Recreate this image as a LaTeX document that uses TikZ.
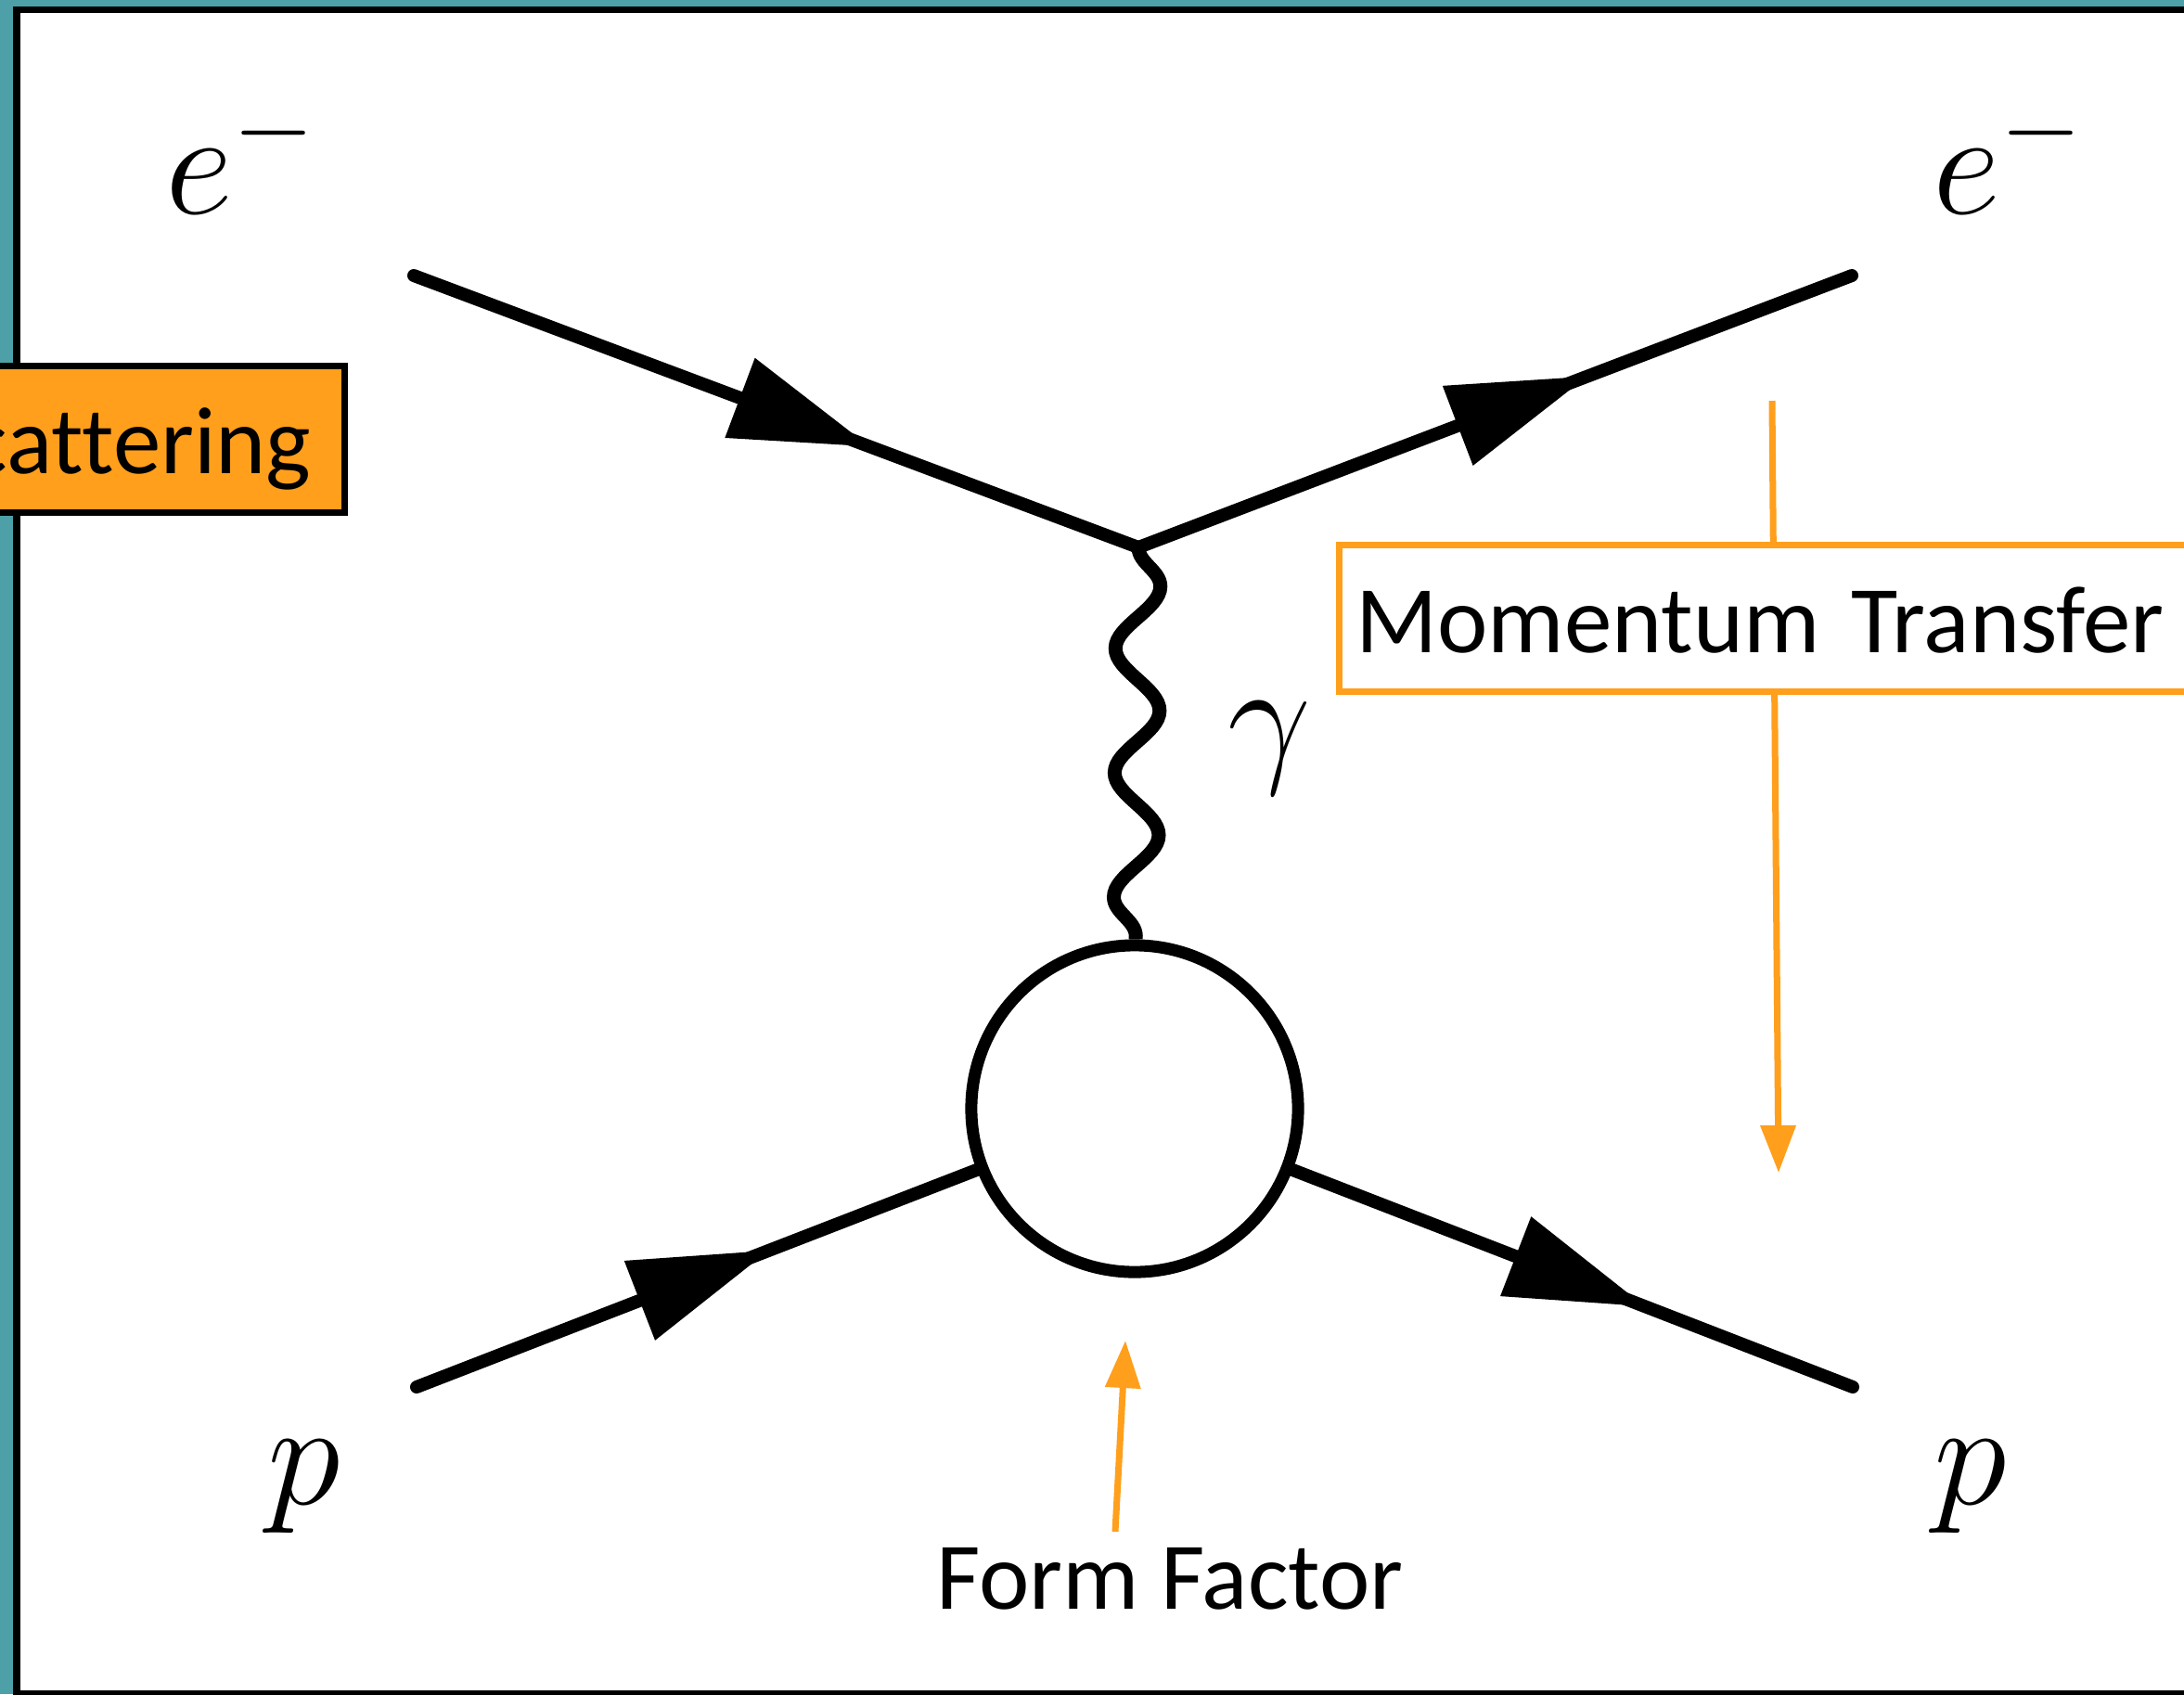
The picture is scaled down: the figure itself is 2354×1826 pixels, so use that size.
\RequirePackage{fix-cm}
\documentclass[tikz,border=0pt]{standalone}
\usepackage{fontspec}
\setmainfont{Carlito}[Ligatures=NoCommon]
\usetikzlibrary{arrows.meta, decorations.markings, decorations.pathmorphing, positioning}
\definecolor{slideteal}{RGB}{77,160,168}
\definecolor{calloutorange}{RGB}{255,159,28}

\begin{document}
\begin{tikzpicture}[x=0.01cm, y=-0.01cm,
  fermion/.style={line width=0.14cm, line cap=round, postaction={decorate},
    decoration={markings, mark=at position 0.63 with {\arrow{Triangle[length=1.5cm, width=0.88cm]}}}},
  photon/.style={line width=0.15cm, decorate, decoration={snake, segment length=1.34cm, amplitude=0.24cm}},
  particle/.style={font=\fontsize{45.5}{50}\selectfont, inner sep=0pt},
  note/.style={font=\fontsize{29.3}{35}\selectfont},
  tag/.style={note, line width=0.07cm, text height=0.96cm, text depth=0.22cm, inner ysep=0.2cm},
  pointer/.style={calloutorange, line width=0.07cm, -{Triangle[length=0.51cm, width=0.37cm]}}]
\useasboundingbox (0,0) rectangle (2354,1826);
\clip (0,0) rectangle (2354,1826);
\fill [slideteal] (0,0) rectangle (2354,1826);
\draw [line width=0.07cm, fill=white] (18,10) rectangle (2380,1825);
\coordinate (ein) at (446,297);
\coordinate (vtx) at (1227,590);
\coordinate (eout) at (1996,297);
\coordinate (pin) at (449,1495);
\coordinate (pout) at (1997,1495);
\node (blob) [circle, draw, line width=0.13cm, minimum size=3.52cm, inner sep=0pt] at (1223,1195) {};
\draw [fermion] (ein) -- (vtx);
\draw [fermion] (vtx) -- (eout);
\draw [fermion] (pin) -- (blob);
\draw [fermion] (blob) -- (pout);
\draw [photon] (vtx) -- (blob);
\node (ebeam) [particle, anchor=base west] at (178,230) {$e^-$};
\node (escat) [particle, anchor=base west] at (2083,230) {$e^-$};
\node (ptarget) [particle, anchor=base] at (328,1621) {$p$};
\node (precoil) [particle, anchor=base] at (2124,1621) {$p$};
\node (gamma) [particle, anchor=base] at (1368,825) {$\gamma$};
\coordinate (qtop) at (1910,432);
\coordinate (qtip) at (1917,1264);
\draw [pointer] (qtop) -- (qtip);
\node (qbox) [tag, draw=calloutorange, fill=white, anchor=north west, text width=9.5cm, inner xsep=0.18cm, align=left] at (1440,584) {Momentum Transfer};
\node (kind) [tag, draw=black, fill=calloutorange, anchor=north east, inner xsep=0.36cm] at (375,391) {Scattering};
\node (ff) [note, anchor=base] at (1261,1734) {Form Factor};
\coordinate (fftail) at (1202,1651);
\coordinate (fftip) at (1213,1445);
\draw [pointer] (fftail) -- (fftip);
\end{tikzpicture}
\end{document}
